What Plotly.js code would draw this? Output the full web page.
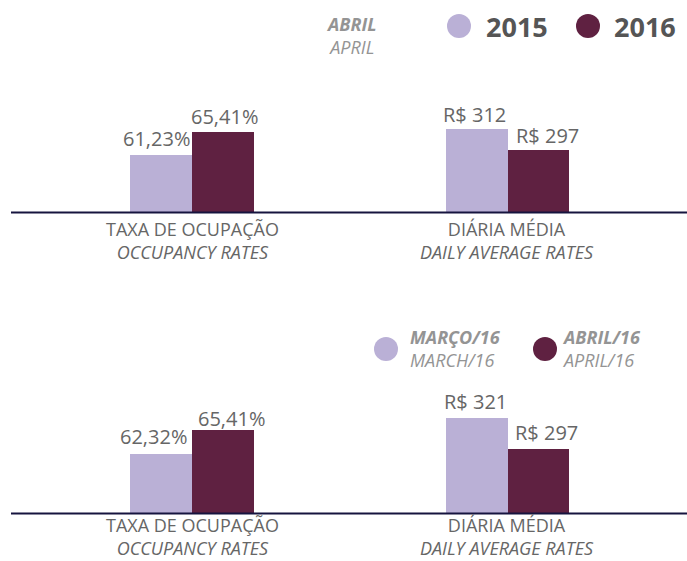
<!DOCTYPE html>
<html><head><meta charset="utf-8">
<script src="https://cdn.plot.ly/plotly-3.0.1.min.js"></script>
<style>html,body{margin:0;padding:0;background:#fff}#chart{width:687px;height:561px}</style>
</head><body><div id="chart"></div>
<script>
// ---- data ----
const topSeries = ['2015', '2016'];
const topPeriodPt = 'ABRIL';
const topPeriodEn = 'APRIL';
const bottomSeriesPt = ['MARÇO/16', 'ABRIL/16'];
const bottomSeriesEn = ['MARCH/16', 'APRIL/16'];
const categoriesPt = ['TAXA DE OCUPAÇÃO', 'DIÁRIA MÉDIA'];
const categoriesEn = ['OCCUPANCY RATES', 'DAILY AVERAGE RATES'];
const topOccupancy = [61.23, 65.41];
const topDaily = [312, 297];
const bottomOccupancy = [62.32, 65.41];
const bottomDaily = [321, 297];

// ---- style ----
const W = 687, H = 561;
const colors = ['#bab0d6', '#5f2141'];
const textGray = '#666666';
const legendGray = '#949494';
const FONT = '"Open Sans", Lato, sans-serif';
const px = x => x / W;
const py = y => 1 - y / H;

const fmtPct = v => v.toFixed(2).replace('.', ',') + '%';
const fmtMoney = v => 'R$ ' + v;

const annotations = [];

// value-label nudges (pixels) to follow the hand-placed labels of the original
const panels = [
  {xa: 'x',  ya: 'y',  cats: topSeries,      vals: topOccupancy,    fmt: fmtPct,   dx: [-5, 1],    dy: [2, 1]},
  {xa: 'x2', ya: 'y2', cats: topSeries,      vals: topDaily,        fmt: fmtMoney, dx: [-2, 9],    dy: [0, 0]},
  {xa: 'x3', ya: 'y3', cats: bottomSeriesEn, vals: bottomOccupancy, fmt: fmtPct,   dx: [-8, 8],    dy: [3, -3]},
  {xa: 'x4', ya: 'y4', cats: bottomSeriesEn, vals: bottomDaily,     fmt: fmtMoney, dx: [-1, 8],    dy: [2, 2]}
];

const data = panels.map(p => ({
  type: 'bar', x: p.cats, y: p.vals, xaxis: p.xa, yaxis: p.ya,
  width: 1, marker: {color: colors, line: {width: 0}},
  hoverinfo: 'skip', showlegend: false, cliponaxis: false
}));

panels.forEach(p => {
  p.vals.forEach((v, i) => {
    annotations.push({
      xref: p.xa, yref: p.ya, x: i, y: v, text: p.fmt(v),
      xanchor: 'center', yanchor: 'bottom', showarrow: false, borderpad: 0,
      xshift: p.dx[i], yshift: p.dy[i],
      font: {family: FONT, size: 20, color: textGray}
    });
  });
});

const hidden = {visible: false, fixedrange: true};
const catAxis = {type: 'category', range: [-0.5, 1.5], visible: false, fixedrange: true};
const topDom = [py(212), py(112)];
const botDom = [py(513), py(413)];
const leftDom = [px(130), px(254)];
const rightDom = [px(446), px(569)];

function ann(text, x, y, opts) {
  annotations.push(Object.assign({
    text: text, xref: 'paper', yref: 'paper', x: px(x), y: py(y),
    xanchor: 'center', yanchor: 'middle', showarrow: false, borderpad: 0,
    font: {family: FONT, size: 18, color: textGray}
  }, opts || {}));
}
// category labels (two lines each)
[[216, 'top'], [561, 'bottom']].forEach(([y, anchor]) => {
  [192, 507].forEach((cx, i) => {
    ann(categoriesPt[i] + '<br><i>' + categoriesEn[i] + '</i>', cx, y, {yanchor: anchor});
  });
});
// top legend
ann('<b><i>' + topPeriodPt + '</i></b><br><i>' + topPeriodEn + '</i>', 351, 35.5,
    {font: {family: FONT, size: 18, color: legendGray}});
ann('<b>' + topSeries[0] + '</b>', 485, 27, {xanchor: 'left', font: {family: FONT, size: 27, color: '#555555', weight: 800}});
ann('<b>' + topSeries[1] + '</b>', 613, 27, {xanchor: 'left', font: {family: FONT, size: 27, color: '#555555', weight: 800}});
// bottom legend
ann('<b><i>' + bottomSeriesPt[0] + '</i></b><br><i>' + bottomSeriesEn[0] + '</i>', 409, 348.5,
    {xanchor: 'left', align: 'left', font: {family: FONT, size: 18, color: legendGray}});
ann('<b><i>' + bottomSeriesPt[1] + '</i></b><br><i>' + bottomSeriesEn[1] + '</i>', 561, 348.5,
    {xanchor: 'left', align: 'left', font: {family: FONT, size: 18, color: legendGray}});

function circle(cx, cy, r, color) {
  return {type: 'circle', xref: 'paper', yref: 'paper',
    x0: px(cx - r), x1: px(cx + r), y0: py(cy + r), y1: py(cy - r),
    fillcolor: color, line: {width: 0}};
}
const shapes = [
  circle(459, 26, 12, colors[0]), circle(588, 26, 12, colors[1]),
  circle(386, 349, 12, colors[0]), circle(545, 349, 12, colors[1]),
  {type: 'line', xref: 'paper', yref: 'paper', x0: px(11), x1: 1, y0: py(212.5), y1: py(212.5),
   line: {color: '#16143f', width: 2}},
  {type: 'line', xref: 'paper', yref: 'paper', x0: px(11), x1: 1, y0: py(513.5), y1: py(513.5),
   line: {color: '#16143f', width: 2}}
];

const layout = {
  width: W, height: H, margin: {l: 0, r: 0, t: 0, b: 0},
  paper_bgcolor: '#ffffff', plot_bgcolor: 'rgba(0,0,0,0)',
  bargap: 0, showlegend: false,
  xaxis: Object.assign({domain: leftDom, anchor: 'y'}, catAxis),
  yaxis: Object.assign({domain: topDom, anchor: 'x', range: [50.87, 69.04]}, hidden),
  xaxis2: Object.assign({domain: rightDom, anchor: 'y2'}, catAxis),
  yaxis2: Object.assign({domain: topDom, anchor: 'x2', range: [252.7, 324.1]}, hidden),
  xaxis3: Object.assign({domain: leftDom, anchor: 'y3'}, catAxis),
  yaxis3: Object.assign({domain: botDom, anchor: 'x3', range: [54.72, 67.6]}, hidden),
  xaxis4: Object.assign({domain: rightDom, anchor: 'y4'}, catAxis),
  yaxis4: Object.assign({domain: botDom, anchor: 'x4', range: [247.45, 324.87]}, hidden),
  annotations: annotations, shapes: shapes
};

Plotly.newPlot('chart', data, layout, {displayModeBar: false, staticPlot: true});
</script>
</body></html>
